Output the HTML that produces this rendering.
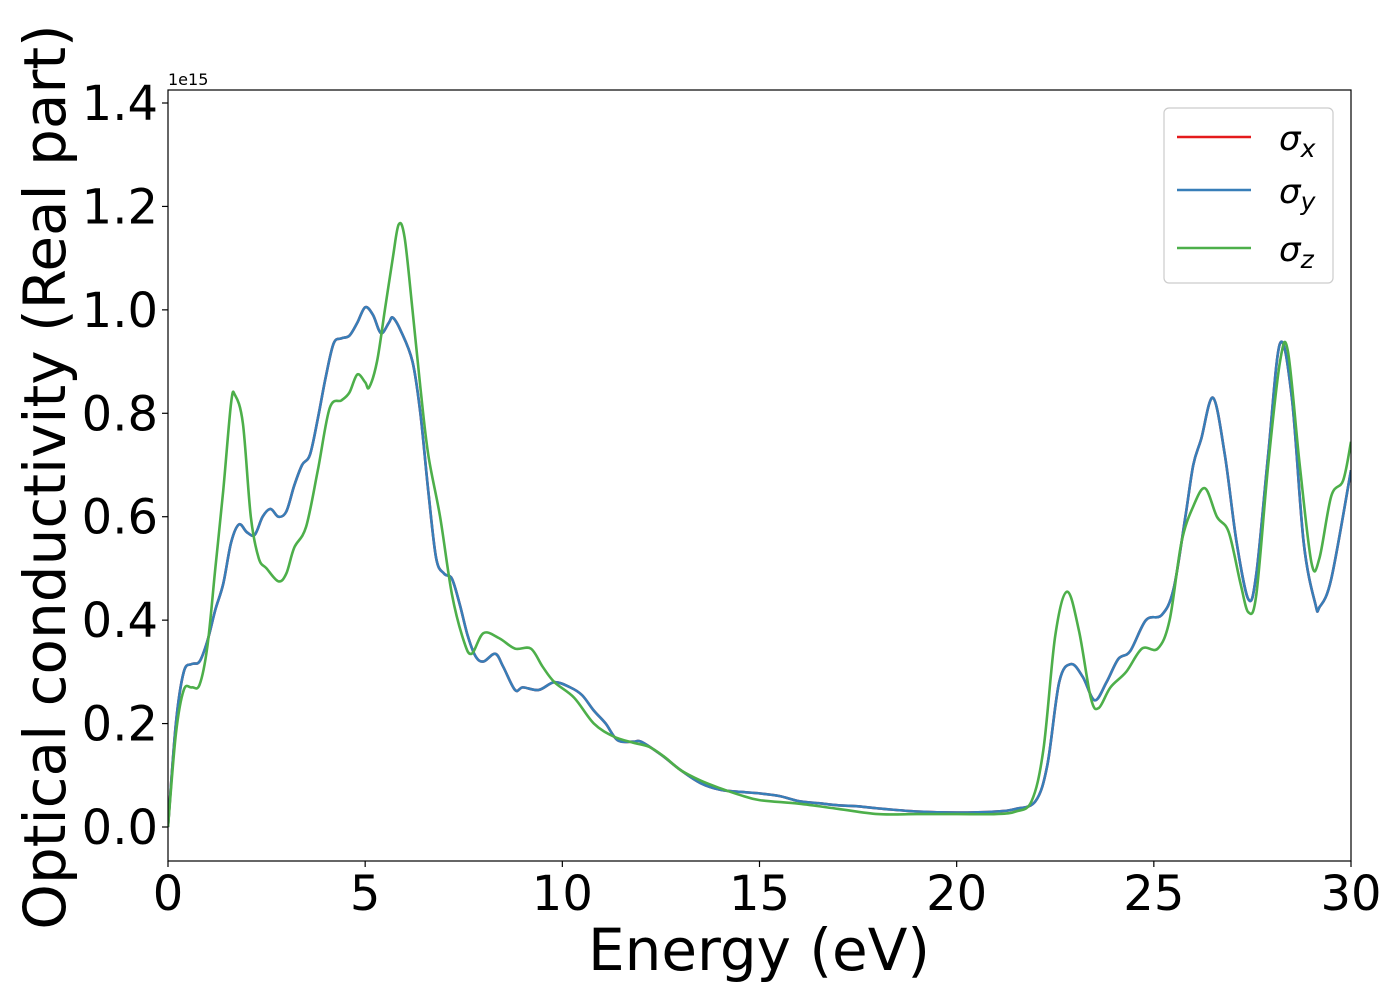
<!DOCTYPE html>
<html><head><meta charset="utf-8"><style>
body{margin:0;background:#fff;}
svg text{font-family:"DejaVu Sans","Liberation Sans",sans-serif;}
</style></head><body>
<svg id="chart" width="1400" height="1000" xmlns="http://www.w3.org/2000/svg">
<g id="plot"></g>
</svg>
<script>
const xBlue=[0,0.2,0.4,0.6,0.8,1.0,1.2,1.4,1.6,1.8,2.0,2.2,2.4,2.6,2.8,3.0,3.2,3.4,3.6,3.8,4.0,4.2,4.4,4.6,4.8,5.0,5.2,5.4,5.6,5.7,5.9,6.2,6.4,6.6,6.8,7.0,7.2,7.4,7.6,7.8,8.0,8.3,8.5,8.8,9.0,9.4,9.8,10.2,10.5,10.8,11.1,11.4,11.8,12.0,12.5,13,13.5,14,14.5,15,15.5,16,16.5,17,17.5,18,19,20,21,21.5,22,22.3,22.6,22.9,23.2,23.5,23.8,24.1,24.4,24.8,25.2,25.5,25.8,26.0,26.2,26.5,26.8,27.1,27.4,27.6,27.9,28.2,28.5,28.8,29.1,29.2,29.5,30];
const sigmaXY=[0,0.2,0.3,0.315,0.32,0.36,0.42,0.47,0.55,0.585,0.57,0.565,0.6,0.615,0.6,0.61,0.66,0.7,0.72,0.79,0.87,0.935,0.945,0.95,0.975,1.005,0.99,0.955,0.975,0.985,0.96,0.9,0.8,0.65,0.52,0.49,0.48,0.43,0.37,0.33,0.32,0.335,0.31,0.265,0.27,0.265,0.28,0.27,0.255,0.225,0.2,0.168,0.165,0.165,0.14,0.11,0.085,0.072,0.068,0.065,0.06,0.05,0.046,0.042,0.04,0.036,0.03,0.028,0.03,0.035,0.05,0.12,0.28,0.315,0.29,0.245,0.28,0.325,0.34,0.4,0.41,0.46,0.6,0.7,0.75,0.83,0.72,0.55,0.44,0.49,0.72,0.935,0.83,0.55,0.43,0.425,0.48,0.69];
const xGreen=[0,0.2,0.4,0.6,0.8,1.0,1.2,1.4,1.6,1.7,1.9,2.1,2.3,2.5,2.8,3.0,3.2,3.5,3.8,4.1,4.4,4.6,4.8,5.0,5.1,5.3,5.5,5.7,5.85,6.0,6.2,6.4,6.6,6.9,7.2,7.5,7.7,8.0,8.4,8.8,9.2,9.5,9.8,10.3,10.8,11.3,11.8,12.2,12.6,13,13.5,14,14.5,15,16,17,18,19,20,21,21.5,21.9,22.2,22.5,22.8,23.1,23.4,23.6,23.9,24.3,24.7,25.1,25.4,25.7,26.0,26.3,26.6,26.9,27.2,27.4,27.6,27.9,28.2,28.4,28.7,29.0,29.2,29.5,29.8,30];
const sigmaZ=[0,0.18,0.265,0.27,0.275,0.35,0.5,0.65,0.82,0.835,0.78,0.6,0.52,0.5,0.475,0.49,0.54,0.58,0.69,0.81,0.825,0.84,0.875,0.86,0.85,0.9,1.0,1.1,1.165,1.14,1.0,0.85,0.72,0.6,0.45,0.36,0.335,0.375,0.365,0.345,0.345,0.31,0.28,0.25,0.2,0.175,0.163,0.155,0.135,0.11,0.09,0.075,0.062,0.052,0.045,0.035,0.025,0.025,0.025,0.025,0.03,0.05,0.15,0.37,0.455,0.38,0.25,0.23,0.27,0.3,0.345,0.345,0.4,0.55,0.62,0.655,0.6,0.57,0.47,0.415,0.45,0.7,0.9,0.92,0.7,0.51,0.52,0.64,0.67,0.745];
const xTicks=[0,5,10,15,20,25,30];
const yTicks=[0.0,0.2,0.4,0.6,0.8,1.0,1.2,1.4];

const L=168,R=1351,T=90,B=861;
const sx=v=>L+(v-0)/30*(R-L);
const sy=v=>827-v*(827-103)/1.4;
const NS="http://www.w3.org/2000/svg";
const svg=document.getElementById('chart');
function mk(tag,attrs,parent){const e=document.createElementNS(NS,tag);for(const k in attrs)e.setAttribute(k,attrs[k]);(parent||svg).appendChild(e);return e;}
function pathFor(xs,ys){
  const p=xs.map((x,i)=>[sx(x),sy(ys[i])]);
  let d=`M${p[0][0]},${p[0][1]}`;
  for(let i=0;i<p.length-1;i++){
    const p0=p[Math.max(0,i-1)],p1=p[i],p2=p[i+1],p3=p[Math.min(p.length-1,i+2)];
    const c1=[p1[0]+(p2[0]-p0[0])/6,p1[1]+(p2[1]-p0[1])/6];
    const c2=[p2[0]-(p3[0]-p1[0])/6,p2[1]-(p3[1]-p1[1])/6];
    d+=` C${c1[0]},${c1[1]} ${c2[0]},${c2[1]} ${p2[0]},${p2[1]}`;
  }
  return d;
}
const plot=document.getElementById('plot');
const defs=mk('defs',{});
const cp=mk('clipPath',{id:'clip'},defs);
mk('rect',{x:L,y:T,width:R-L,height:B-T},cp);
const g=mk('g',{'clip-path':'url(#clip)'},plot);
const lx=mk('path',{d:pathFor(xBlue,sigmaXY),fill:'none',stroke:'#e41a1c','stroke-width':2.6},g);


const ly=mk('path',{d:pathFor(xBlue,sigmaXY),fill:'none',stroke:'#377eb8','stroke-width':2.6},g);


const lz=mk('path',{d:pathFor(xGreen,sigmaZ),fill:'none',stroke:'#4daf4a','stroke-width':2.6},g);


const frame=mk('rect',{x:L,y:T,width:R-L,height:B-T,fill:'none',stroke:'#000','stroke-width':1.2});


xTicks.forEach(v=>{
  mk('line',{x1:sx(v),x2:sx(v),y1:B,y2:B+6,stroke:'#000','stroke-width':1.2});
  const t=mk('text',{x:sx(v),y:B+49,'font-size':48,'text-anchor':'middle'});t.textContent=v;
  
  
});
yTicks.forEach(v=>{
  mk('line',{x1:L-6,x2:L,y1:sy(v),y2:sy(v),stroke:'#000','stroke-width':1.2});
  const t=mk('text',{x:L-10,y:sy(v)+17,'font-size':48,'text-anchor':'end'});t.textContent=v.toFixed(1);
  
  
});
const off=mk('text',{x:168,y:85,'font-size':16});off.textContent='1e15';


const xt=mk('text',{x:759,y:970,'font-size':58,'text-anchor':'middle'});xt.textContent='Energy (eV)';


const yt=mk('text',{x:0,y:0,'font-size':58,'text-anchor':'middle',transform:'translate(65,477) rotate(-90)'});yt.textContent='Optical conductivity (Real part)';


const lg=mk('g',{});


mk('rect',{x:1164,y:108,width:169,height:175,rx:5,fill:'#fff',stroke:'#ccc','stroke-width':1.2},lg);
const entries=[['#e41a1c','x',137],['#377eb8','y',190],['#4daf4a','z',248]];
entries.forEach(e=>{
  const ge=mk('g',{},lg);
  
  
  mk('line',{x1:1177,x2:1251,y1:e[2],y2:e[2],stroke:e[0],'stroke-width':2.6},ge);
  const t=mk('text',{x:1279,y:e[2]+13,'font-size':34,'font-style':'italic'},ge);
  t.innerHTML='σ<tspan font-size="25" dy="7">'+e[1]+'</tspan>';
});
</script>
</body></html>
